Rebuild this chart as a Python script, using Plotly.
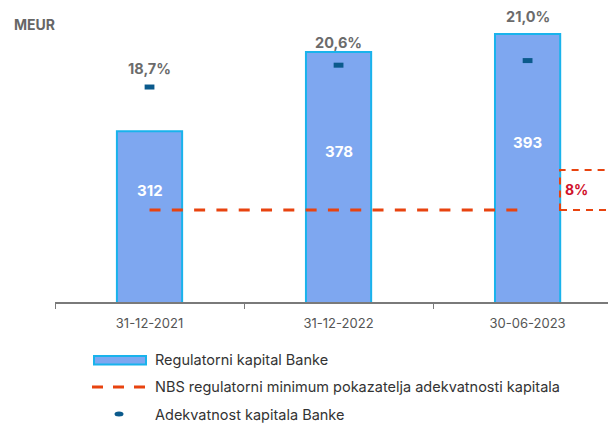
import plotly.graph_objects as go

categories = ["31-12-2021", "31-12-2022", "30-06-2023"]
capital = [312, 378, 393]
adequacy = [18.7, 20.6, 21.0]
nbs_min = [8, 8, 8]
adequacy_labels = ["18,7%", "20,6%", "21,0%"]
nbs_label = "8%"
legend_names = ["Regulatorni kapital Banke",
                "NBS regulatorni minimum pokazatelja adekvatnosti kapitala",
                "Adekvatnost kapitala Banke"]

FONT = "Inter, Roboto, Arial, sans-serif"
BAR_FILL, BAR_EDGE = "#7ea7f0", "#19b3ec"
LINE_COL, DOT_COL = "#e8430f", "#0b5a8c"

fig = go.Figure()

fig.add_trace(go.Bar(
    x=categories, y=capital, name=legend_names[0],
    marker=dict(color=BAR_FILL, line=dict(color=BAR_EDGE, width=2)),
    width=0.345, hoverinfo="skip", showlegend=False,
))

fig.add_trace(go.Scatter(
    x=categories, y=nbs_min, yaxis="y2", mode="lines", name=legend_names[1],
    line=dict(color=LINE_COL, width=3, dash="11px,11.3px"), showlegend=False,
))

fig.add_trace(go.Scatter(
    x=categories, y=adequacy, yaxis="y2", mode="markers", name=legend_names[2],
    marker=dict(symbol="line-ew", size=7, line=dict(color=DOT_COL, width=5)),
    showlegend=False,
))

annotations = []
ymin, ymax = 170, 413
for c, v in zip(categories, capital):
    annotations.append(dict(x=c, y=(v + ymin) / 2, xref="x", yref="y", text=f"<b>{v}</b>",
                            showarrow=False, yshift=26,
                            font=dict(family=FONT, size=15, color="white")))
shifts = [19, 23, 44]
for c, v, t, s in zip(categories, adequacy, adequacy_labels, shifts):
    annotations.append(dict(x=c, y=v, xref="x", yref="y2", text=f"<b>{t}</b>",
                            showarrow=False, yshift=s,
                            font=dict(family=FONT, size=14.5, color="#6b6b6b")))
annotations.append(dict(x=-0.0756, y=0.949, xref="paper", yref="paper", text="<b>MEUR</b>",
                        xanchor="left", yanchor="middle", showarrow=False,
                        font=dict(family=FONT, size=14, color="#666666")))
annotations.append(dict(x=0.940, y=nbs_min[0] + 1.75, xref="paper", yref="y2",
                        text=f"<b>{nbs_label}</b>", showarrow=False,
                        font=dict(family=FONT, size=14, color="#d0112b")))

# manual legend (paper coordinates)
def px_x(p):
    return (p - 55) / 569.0

def px_y(p):
    return (302 - p) / 292.0

legend_rows = [360, 387, 414]
for name, row in zip(legend_names, legend_rows):
    annotations.append(dict(x=px_x(153), y=px_y(row), xref="paper", yref="paper", text=name,
                            xanchor="left", yanchor="middle", showarrow=False,
                            font=dict(family=FONT, size=14.5, color="#333333")))

shapes = [
    dict(type="rect", xref="paper", yref="y2", x0=0.8875, x1=1.2, y0=nbs_min[0], y1=11.48,
         line=dict(color=LINE_COL, width=2, dash="7px,6px"), fillcolor="rgba(0,0,0,0)",
         layer="above"),
    dict(type="rect", xref="paper", yref="paper", x0=px_x(94), x1=px_x(146),
         y0=px_y(356), y1=px_y(364.5), fillcolor=BAR_FILL, line=dict(color=BAR_EDGE, width=2)),
    dict(type="line", xref="paper", yref="paper", x0=px_x(92), x1=px_x(147),
         y0=px_y(387), y1=px_y(387), line=dict(color=LINE_COL, width=3, dash="11px,10px")),
    dict(type="circle", xref="paper", yref="paper", x0=px_x(114.5), x1=px_x(123.5),
         y0=px_y(411.5), y1=px_y(416.5), fillcolor=DOT_COL, line=dict(width=0)),
]

fig.update_layout(
    width=616, height=425,
    margin=dict(l=47, r=0, t=2, b=131),
    paper_bgcolor="white", plot_bgcolor="white",
    showlegend=False,
    xaxis=dict(type="category", range=[-0.5, 2.51], showgrid=False,
               showline=True, linecolor="#7a7a7a", linewidth=1.5,
               ticks="outside", tickson="boundaries", ticklen=5, tickcolor="#7a7a7a",
               ticklabelstandoff=9,
               tickfont=dict(family=FONT, size=13, color="#555555")),
    yaxis=dict(range=[ymin, ymax], visible=False, showgrid=False),
    yaxis2=dict(range=[0, 25.4], overlaying="y", side="right", visible=False, showgrid=False),
    annotations=annotations,
    shapes=shapes,
)

fig.write_html("out.html")
